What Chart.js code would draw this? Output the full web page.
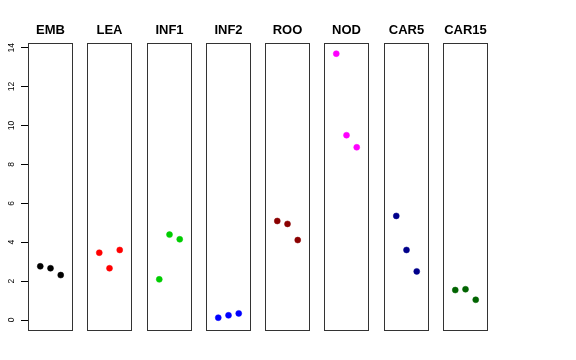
<!DOCTYPE html>
<html>
<head>
<meta charset="utf-8">
<script src="https://cdn.jsdelivr.net/npm/chart.js@4/dist/chart.umd.min.js"></script>
<style>
  html, body { margin: 0; padding: 0; background: #fff; }
  #wrap { position: relative; width: 576px; height: 360px; overflow: hidden; }
  #wrap canvas { position: absolute; top: 0; }
</style>
</head>
<body>
<div id="wrap"></div>
<script>
// data
const panels = ["EMB", "LEA", "INF1", "INF2", "ROO", "NOD", "CAR5", "CAR15"];
const colours = ["#000000", "#FF0000", "#00CD00", "#0000FF", "#8B0000", "#FF00FF", "#00008B", "#006400"];
const replicate = [1, 2, 3];
const emb = [2.76, 2.66, 2.31];
const lea = [3.46, 2.66, 3.60];
const inf1 = [2.09, 4.39, 4.15];
const inf2 = [0.12, 0.24, 0.34];
const roo = [5.09, 4.94, 4.11];
const nod = [13.69, 9.50, 8.88];
const car5 = [5.35, 3.60, 2.50];
const car15 = [1.54, 1.58, 1.04];
const yTicks = [0, 2, 4, 6, 8, 10, 12, 14];

const series = [emb, lea, inf1, inf2, roo, nod, car5, car15];

const FONT = "'Liberation Sans', Arial, Helvetica, sans-serif";
const panelLeft = [28, 87, 147, 206, 265, 324, 384, 443];
const panelW = 45;
const axisW = 28;

// box round each panel
const boxPlugin = {
    id: "box",
    afterDraw(chart) {
        const a = chart.chartArea;
        const ctx = chart.ctx;
        ctx.save();
        ctx.strokeStyle = "#333";
        ctx.lineWidth = 1;
        ctx.strokeRect(a.left + 0.5, a.top + 0.5, a.right - a.left - 1, a.bottom - a.top - 1);
        ctx.restore();
    }
};

const wrap = document.getElementById("wrap");

panels.forEach((name, i) => {
    const first = i === 0;
    const canvas = document.createElement("canvas");
    const w = first ? axisW + panelW + axisW : panelW + 10;
    canvas.width = w;
    canvas.height = 340;
    canvas.style.left = (first ? 0 : panelLeft[i] - 5) + "px";
    canvas.style.width = w + "px";
    canvas.style.height = "340px";
    wrap.appendChild(canvas);

    const scales = {
        x: { type: "linear", min: -0.2, max: 4.2, display: false },
        y: {
            type: "linear",
            min: -0.565,
            max: 14.24,
            display: first,
            afterBuildTicks: (scale) => {
                scale.ticks = yTicks.map(v => ({ value: v }));
            },
            grid: {
                display: true,
                drawOnChartArea: false,
                drawTicks: true,
                tickLength: 7,
                color: "#000",
                lineWidth: 1
            },
            border: { display: false },
            ticks: {
                color: "#000",
                font: { family: FONT, size: 8.5 },
                minRotation: 90,
                maxRotation: 90,
                crossAlign: "center",
                padding: 5
            }
        }
    };
    if (first) {
        scales.y.afterFit = (scale) => {
            scale.width = axisW;
            scale.paddingTop = 0;
            scale.paddingBottom = 0;
        };
        // empty axis on the right so the title stays centred over the panel
        scales.yRight = {
            type: "linear",
            position: "right",
            min: 0,
            max: 1,
            display: true,
            grid: { display: false },
            border: { display: false },
            ticks: { display: false },
            afterFit: (scale) => {
                scale.width = axisW;
                scale.paddingTop = 0;
                scale.paddingBottom = 0;
            }
        };
    }

    new Chart(canvas.getContext("2d"), {
        type: "scatter",
        data: {
            datasets: [{
                data: replicate.map((x, k) => ({ x: x, y: series[i][k] })),
                backgroundColor: colours[i],
                borderColor: colours[i],
                borderWidth: 0.5,
                pointRadius: 3,
                pointHoverRadius: 3
            }]
        },
        options: {
            responsive: false,
            animation: false,
            layout: { padding: { left: first ? 0 : 5, right: first ? 0 : 5, top: 0, bottom: 9 } },
            plugins: {
                legend: { display: false },
                tooltip: { enabled: false },
                title: {
                    display: true,
                    text: name,
                    color: "#000",
                    font: { family: FONT, size: 13, weight: "bold" },
                    padding: { top: 23, bottom: 4.4 }
                }
            },
            scales: scales
        },
        plugins: [boxPlugin]
    });
});
</script>
</body>
</html>
